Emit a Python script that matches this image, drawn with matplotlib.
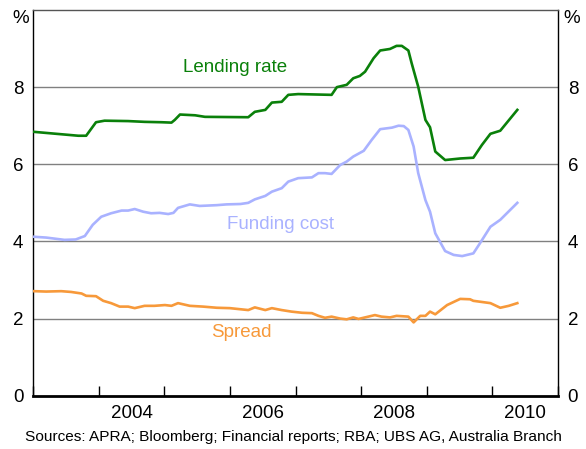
import matplotlib
matplotlib.use("Agg")
import matplotlib.pyplot as plt
from matplotlib.ticker import FixedLocator, NullFormatter, FixedFormatter

plt.rcParams['font.family'] = ['Liberation Sans', 'DejaVu Sans']

lending_x = [2003.02, 2003.69, 2003.81, 2003.96, 2004.09, 2004.45, 2004.70, 2004.96, 2005.11,
             2005.16, 2005.24, 2005.47, 2005.62, 2006.28, 2006.38, 2006.54, 2006.64, 2006.79,
             2006.89, 2007.04, 2007.55, 2007.63, 2007.78, 2007.88, 2007.98, 2008.06, 2008.19,
             2008.29, 2008.44, 2008.54, 2008.62, 2008.72, 2008.77, 2008.87, 2008.98, 2009.05,
             2009.13, 2009.28, 2009.51, 2009.71, 2009.84, 2009.97, 2010.12, 2010.38]
lending_y = [6.84, 6.74, 6.74, 7.09, 7.13, 7.12, 7.10, 7.09, 7.08,
             7.15, 7.29, 7.27, 7.23, 7.22, 7.36, 7.41, 7.60, 7.62,
             7.80, 7.82, 7.80, 8.00, 8.06, 8.23, 8.29, 8.40, 8.75,
             8.95, 8.99, 9.07, 9.07, 8.95, 8.62, 8.01, 7.15, 6.96,
             6.33, 6.11, 6.15, 6.17, 6.50, 6.79, 6.87, 7.41]

funding_x = [2003.02, 2003.20, 2003.48, 2003.65, 2003.79, 2003.91, 2004.04, 2004.19, 2004.35,
             2004.45, 2004.55, 2004.68, 2004.80, 2004.93, 2005.06, 2005.14, 2005.21, 2005.39,
             2005.54, 2005.80, 2005.95, 2006.16, 2006.28, 2006.38, 2006.54, 2006.64, 2006.79,
             2006.89, 2007.04, 2007.25, 2007.35, 2007.45, 2007.55, 2007.68, 2007.78, 2007.88,
             2008.04, 2008.16, 2008.29, 2008.47, 2008.57, 2008.65, 2008.72, 2008.80, 2008.87,
             2008.98, 2009.05, 2009.13, 2009.28, 2009.41, 2009.54, 2009.71, 2009.81, 2009.97,
             2010.12, 2010.38]
funding_y = [4.12, 4.10, 4.04, 4.05, 4.14, 4.43, 4.64, 4.73, 4.80,
             4.80, 4.84, 4.77, 4.73, 4.74, 4.71, 4.74, 4.87, 4.96,
             4.92, 4.94, 4.96, 4.97, 5.00, 5.09, 5.18, 5.29, 5.38,
             5.55, 5.64, 5.66, 5.77, 5.77, 5.75, 5.98, 6.07, 6.20,
             6.35, 6.63, 6.91, 6.95, 7.00, 6.99, 6.89, 6.46, 5.77,
             5.07, 4.77, 4.21, 3.75, 3.65, 3.62, 3.69, 3.95, 4.38,
             4.56, 5.00]

spread_x = [2003.02, 2003.20, 2003.43, 2003.58, 2003.74, 2003.81, 2003.96, 2004.07, 2004.19,
            2004.32, 2004.45, 2004.55, 2004.70, 2004.85, 2005.01, 2005.11, 2005.21, 2005.39,
            2005.59, 2005.80, 2006.00, 2006.28, 2006.38, 2006.54, 2006.64, 2006.79, 2006.94,
            2007.10, 2007.25, 2007.35, 2007.45, 2007.55, 2007.68, 2007.78, 2007.88, 2007.96,
            2008.06, 2008.21, 2008.31, 2008.44, 2008.54, 2008.72, 2008.80, 2008.90, 2008.98,
            2009.05, 2009.13, 2009.31, 2009.51, 2009.66, 2009.71, 2009.97, 2010.12, 2010.25,
            2010.38]
spread_y = [2.71, 2.70, 2.71, 2.69, 2.65, 2.59, 2.58, 2.46, 2.40,
            2.31, 2.31, 2.27, 2.33, 2.33, 2.35, 2.33, 2.40, 2.33,
            2.31, 2.28, 2.27, 2.22, 2.29, 2.22, 2.27, 2.22, 2.18,
            2.15, 2.14, 2.07, 2.02, 2.05, 2.00, 1.98, 2.03, 1.99,
            2.03, 2.09, 2.05, 2.03, 2.07, 2.05, 1.90, 2.07, 2.07,
            2.18, 2.11, 2.35, 2.51, 2.50, 2.46, 2.40, 2.28, 2.33,
            2.40]

year_ticks = [2003, 2004, 2005, 2006, 2007, 2008, 2009, 2010, 2011]
year_label_pos = [2004.5, 2006.5, 2008.5, 2010.5]
year_labels = ['2004', '2006', '2008', '2010']
y_ticks = [0, 2, 4, 6, 8]
y_labels = ['0', '2', '4', '6', '8']

c_lend = '#0a800a'
c_fund = '#a9b2ff'
c_spread = '#f7993a'

fig = plt.figure(figsize=(5.86, 4.49), dpi=100)
ax = fig.add_axes([33/586, 1 - 395.7/449, (558-33)/586, (395.7-10)/449])

for v in [2, 4, 6, 8]:
    ax.axhline(v, color='#808080', lw=1.0, zorder=1)

ax.plot(lending_x, lending_y, color=c_lend, lw=1.9, zorder=3)
ax.plot(funding_x, funding_y, color=c_fund, lw=1.9, zorder=3)
ax.plot(spread_x, spread_y, color=c_spread, lw=1.9, zorder=3)

ax.set_xlim(2003, 2011)
ax.set_ylim(0, 10)

ax.xaxis.set_major_locator(FixedLocator(year_ticks))
ax.xaxis.set_major_formatter(NullFormatter())
ax.xaxis.set_minor_locator(FixedLocator(year_label_pos))
ax.xaxis.set_minor_formatter(FixedFormatter(year_labels))
ax.tick_params(axis='x', which='major', direction='in', length=7, width=1, color='black')
ax.tick_params(axis='x', which='minor', length=0, pad=7, labelsize=13.5)

ax.set_yticks(y_ticks)
ax.set_yticklabels(y_labels)
ax.tick_params(axis='y', which='both', length=0, pad=7, labelsize=13.5,
               left=True, right=True, labelleft=True, labelright=True)

for s in ['left', 'right']:
    ax.spines[s].set_linewidth(1.0)
    ax.spines[s].set_color('black')
ax.spines['top'].set_linewidth(1.0)
ax.spines['top'].set_color('#555555')
ax.spines['bottom'].set_linewidth(2.0)

ax.annotate('%', xy=(0, 1), xycoords='axes fraction', xytext=(-4, 0),
            textcoords='offset pixels', ha='right', va='top', fontsize=13.5)
ax.annotate('%', xy=(1, 1), xycoords='axes fraction', xytext=(5, 0),
            textcoords='offset pixels', ha='left', va='top', fontsize=13.5)

ax.text(2006.08, 8.50, 'Lending rate', color=c_lend, fontsize=13.5, ha='center', va='center')
ax.text(2006.77, 4.43, 'Funding cost', color=c_fund, fontsize=13.5, ha='center', va='center')
ax.text(2006.17, 1.65, 'Spread', color=c_spread, fontsize=13.5, ha='center', va='center')

fig.text(0.5, 1 - 437/449, 'Sources: APRA; Bloomberg; Financial reports; RBA; UBS AG, Australia Branch',
         ha='center', va='center', fontsize=11.1)

fig.savefig('out.png', dpi=100)
